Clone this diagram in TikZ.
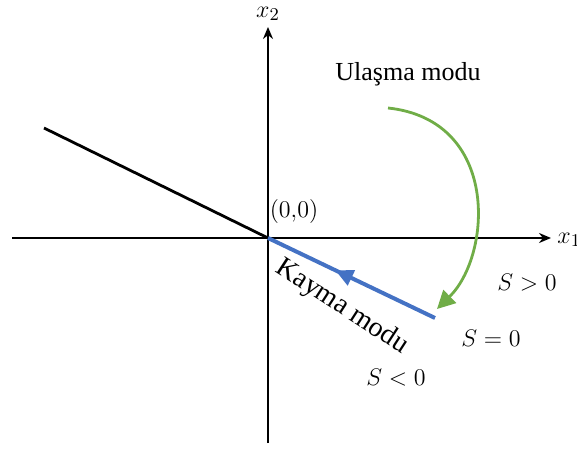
\documentclass[tikz,border=0pt]{standalone}
\usepackage{amsmath}
\usepackage{fontspec}
\setmainfont{Liberation Serif}
\usepackage{tikz}
\usetikzlibrary{arrows.meta, decorations.markings}
\definecolor{slidecol}{RGB}{68,114,196}
\definecolor{reachcol}{RGB}{112,173,71}

\begin{document}
\begin{tikzpicture}[x=0.5pt, y=0.5pt, font=\fontsize{13}{15}\selectfont,
    axis/.style={line width=1.4pt, -{Stealth[length=6pt, width=5pt]}},
    lbl/.style={inner sep=1pt}]
  \useasboundingbox (0,0) rectangle (577,450);
  \coordinate (o) at (268,212);
  \coordinate (xl) at (12,212);
  \coordinate (xr) at (551,212);
  \coordinate (yb) at (268,7);
  \coordinate (yt) at (268,423);
  \coordinate (sl) at (44,322);
  \coordinate (se) at (435,132);

  % axes
  \draw[axis] (xl) -- (xr);
  \draw[axis] (yb) -- (yt);
  \node[lbl, anchor=west] (x1) at (555,210) {$x_1$};
  \node[lbl] (x2) at (268,436) {$x_2$};
  \node[lbl] (orig) at (294,239) {$(0{,}0)$};

  % sliding surface S=0
  \draw[line width=1.4pt] (sl) -- (o);
  \draw[slidecol, line width=2pt, postaction={decorate},
        decoration={markings, mark=at position 0.5 with
          {\arrow{Triangle[reversed, length=9pt, width=8pt]}}}] (o) -- (se);
  \node[lbl, rotate=-33, font=\fontsize{14}{16}\selectfont] (kayma)
    at (342,143) {Kayma modu};

  % reaching phase
  \node[lbl] (ulasma) at (408,376) {Ulaşma modu};
  \coordinate (ra) at (388,342);
  \coordinate (rb) at (437,141);
  \draw[reachcol, line width=1.4pt, -{Triangle[length=9pt, width=9pt]}]
    (ra) .. controls (500,330) and (492,195) .. (rb);

  \node[lbl] (spos) at (527,167) {$S>0$};
  \node[lbl] (szero) at (491,112) {$S=0$};
  \node[lbl] (sneg) at (396,72) {$S<0$};
\end{tikzpicture}
\end{document}
